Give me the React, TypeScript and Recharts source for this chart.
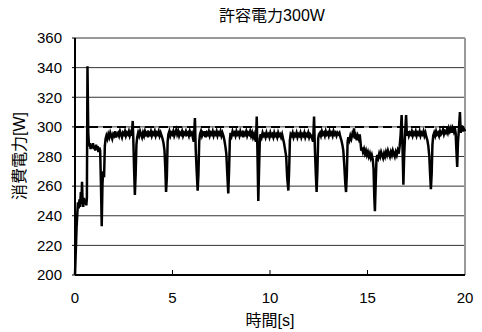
import React from 'react';
import { LineChart, Line, XAxis, YAxis, CartesianGrid, ReferenceLine } from 'recharts';

// Power draw log under a 300 W limit
const chartTitle = '許容電力300W';
const xTitle = '時間[s]';
const yTitle = '消費電力[W]';
const limitW = 300;

const xTicks = [0, 5, 10, 15, 20];
const yTicks = [200, 220, 240, 260, 280, 300, 320, 340, 360];

// Start-up and first run
const startupT = [0.0, 0.08, 0.15, 0.19, 0.23, 0.26, 0.3, 0.33, 0.36, 0.39, 0.42, 0.46, 0.5, 0.54, 0.58, 0.61, 0.64, 0.68, 0.72, 0.76, 0.8, 0.84, 0.88, 0.92, 0.96, 1.0, 1.04, 1.08, 1.12, 1.16, 1.2, 1.25, 1.29, 1.33, 1.37, 1.41, 1.45, 1.49, 1.53, 1.57, 1.61];
const startupW = [200, 232, 249, 245, 251, 246, 256, 248, 263, 250, 246, 252, 248, 250, 247, 252, 341, 296, 287, 289, 285, 288, 286, 289, 285, 287, 284, 288, 285, 287, 283, 286, 284, 262, 233, 262, 270, 266, 287, 292, 294];

const run1T = [1.66, 1.71, 1.76, 1.81, 1.86, 1.91, 1.96, 2.01, 2.06, 2.11, 2.16, 2.21, 2.26, 2.31, 2.36, 2.41, 2.46, 2.51, 2.56, 2.61, 2.66, 2.71, 2.76, 2.81, 2.86, 2.91, 2.96, 2.99, 3.03, 3.07, 3.11, 3.15, 3.19];
const run1W = [292, 295, 293, 296, 294, 292, 295, 294, 297, 293, 295, 296, 294, 297, 295, 293, 296, 295, 297, 294, 296, 295, 297, 294, 296, 294, 304, 292, 272, 254, 268, 288, 293];

const run2T = [3.24, 3.29, 3.34, 3.39, 3.44, 3.49, 3.54, 3.59, 3.64, 3.69, 3.74, 3.79, 3.84, 3.89, 3.94, 3.99, 4.04, 4.09, 4.14, 4.19, 4.24, 4.29, 4.34, 4.39, 4.44, 4.49, 4.54, 4.59, 4.63, 4.67, 4.71, 4.75, 4.79];
const run2W = [296, 294, 297, 295, 293, 296, 294, 297, 295, 296, 293, 296, 295, 297, 294, 296, 295, 297, 294, 296, 295, 297, 294, 296, 294, 292, 289, 284, 272, 256, 266, 290, 295];

const run3T = [4.84, 4.89, 4.94, 4.99, 5.04, 5.09, 5.14, 5.19, 5.24, 5.29, 5.34, 5.39, 5.44, 5.49, 5.54, 5.59, 5.64, 5.69, 5.74, 5.79, 5.84, 5.89, 5.94, 5.99, 6.04, 6.09, 6.15, 6.19, 6.24, 6.29, 6.33, 6.37, 6.41];
const run3W = [297, 294, 296, 295, 297, 294, 296, 298, 295, 297, 294, 296, 295, 297, 294, 296, 295, 297, 295, 296, 294, 297, 295, 296, 293, 290, 306, 285, 270, 257, 268, 290, 295];

const run4T = [6.46, 6.51, 6.56, 6.61, 6.66, 6.71, 6.76, 6.81, 6.86, 6.91, 6.96, 7.01, 7.06, 7.11, 7.16, 7.21, 7.26, 7.31, 7.36, 7.41, 7.46, 7.51, 7.56, 7.61, 7.66, 7.71, 7.76, 7.81, 7.86, 7.9, 7.94, 7.98];
const run4W = [297, 294, 296, 295, 297, 293, 296, 295, 297, 294, 296, 295, 297, 294, 296, 295, 297, 294, 296, 295, 297, 294, 296, 294, 291, 287, 282, 268, 255, 270, 291, 296];

const run5T = [8.03, 8.08, 8.13, 8.18, 8.23, 8.28, 8.33, 8.38, 8.43, 8.48, 8.53, 8.58, 8.63, 8.68, 8.73, 8.78, 8.83, 8.88, 8.93, 8.98, 9.03, 9.08, 9.13, 9.18, 9.23, 9.28, 9.32, 9.36, 9.4, 9.44, 9.48, 9.52];
const run5W = [294, 297, 295, 296, 294, 297, 295, 296, 294, 297, 295, 296, 293, 296, 295, 297, 294, 296, 295, 297, 294, 296, 293, 295, 292, 290, 307, 280, 250, 272, 292, 295];

const run6T = [9.57, 9.62, 9.67, 9.72, 9.77, 9.82, 9.87, 9.92, 9.97, 10.02, 10.07, 10.12, 10.17, 10.22, 10.27, 10.32, 10.37, 10.42, 10.47, 10.52, 10.57, 10.62, 10.67, 10.72, 10.77, 10.83, 10.88, 10.94, 10.98, 11.02, 11.06];
const run6W = [293, 296, 294, 295, 293, 296, 294, 295, 293, 296, 294, 295, 293, 296, 294, 295, 293, 296, 294, 295, 293, 295, 292, 289, 285, 280, 266, 257, 270, 291, 295];

const run7T = [11.11, 11.16, 11.21, 11.26, 11.31, 11.36, 11.41, 11.46, 11.51, 11.56, 11.61, 11.66, 11.71, 11.76, 11.81, 11.86, 11.91, 11.96, 12.01, 12.06, 12.11, 12.16, 12.21, 12.26, 12.3, 12.35, 12.39, 12.43, 12.47, 12.51];
const run7W = [294, 296, 293, 295, 294, 296, 293, 295, 294, 296, 293, 295, 294, 296, 293, 295, 294, 296, 293, 295, 294, 292, 290, 307, 286, 268, 256, 270, 292, 295];

const run8T = [12.56, 12.61, 12.66, 12.71, 12.76, 12.81, 12.86, 12.91, 12.96, 13.01, 13.06, 13.11, 13.16, 13.21, 13.26, 13.31, 13.36, 13.41, 13.46, 13.51, 13.56, 13.61, 13.66, 13.71, 13.76, 13.81, 13.86, 13.9, 13.94, 13.98, 14.02];
const run8W = [296, 294, 297, 295, 296, 294, 297, 295, 296, 294, 297, 295, 296, 294, 297, 295, 296, 294, 296, 295, 296, 293, 291, 288, 284, 274, 262, 256, 268, 290, 293];

// Reduced-power stretch
const lowT = [14.07, 14.12, 14.17, 14.22, 14.27, 14.31, 14.35, 14.4, 14.45, 14.5, 14.55, 14.6, 14.64, 14.68, 14.72, 14.77, 14.82, 14.87, 14.92, 14.97, 15.02, 15.07, 15.12, 15.17, 15.22, 15.27, 15.31, 15.35, 15.38, 15.42, 15.46, 15.5, 15.55, 15.6, 15.65, 15.7, 15.75, 15.8, 15.85, 15.9, 15.95, 16.0, 16.05, 16.1, 16.15, 16.2, 16.25, 16.3, 16.35, 16.4, 16.45, 16.5, 16.55, 16.6, 16.65, 16.7, 16.75, 16.8, 16.84, 16.88, 16.93, 16.98, 17.02];
const lowW = [291, 294, 292, 295, 293, 299, 292, 294, 291, 294, 292, 295, 290, 284, 286, 283, 285, 282, 284, 281, 283, 280, 282, 279, 281, 278, 272, 252, 243, 262, 278, 281, 279, 282, 280, 283, 281, 279, 282, 280, 283, 281, 284, 282, 280, 283, 281, 284, 282, 280, 283, 281, 284, 282, 287, 295, 308, 284, 261, 280, 296, 308, 294];

const run9T = [17.07, 17.12, 17.17, 17.22, 17.27, 17.32, 17.37, 17.42, 17.47, 17.52, 17.57, 17.62, 17.67, 17.72, 17.77, 17.82, 17.87, 17.92, 17.97, 18.02, 18.07, 18.12, 18.17, 18.21, 18.25, 18.29, 18.33, 18.37];
const run9W = [297, 294, 296, 295, 297, 294, 296, 295, 297, 294, 296, 295, 297, 294, 296, 295, 297, 294, 296, 293, 291, 287, 280, 268, 258, 268, 288, 294];

const run10T = [18.42, 18.47, 18.52, 18.57, 18.62, 18.67, 18.72, 18.77, 18.82, 18.87, 18.92, 18.97, 19.02, 19.07, 19.12, 19.17, 19.22, 19.27, 19.32, 19.37, 19.42, 19.47, 19.52, 19.56, 19.6, 19.64, 19.68, 19.74, 19.78, 19.83, 19.88, 19.93, 19.97, 20.0];
const run10W = [296, 294, 297, 295, 296, 294, 297, 295, 296, 298, 295, 297, 296, 298, 296, 299, 297, 299, 296, 299, 297, 300, 296, 284, 273, 290, 297, 310, 296, 301, 297, 299, 298, 297];

const timeS = [...startupT, ...run1T, ...run2T, ...run3T, ...run4T, ...run5T, ...run6T, ...run7T, ...run8T, ...lowT, ...run9T, ...run10T];
const powerW = [...startupW, ...run1W, ...run2W, ...run3W, ...run4W, ...run5W, ...run6W, ...run7W, ...run8W, ...lowW, ...run9W, ...run10W];

const rows = timeS.map((t, i) => ({ t, w: powerW[i] }));

const FONT = "'Liberation Sans', 'Noto Sans CJK JP', sans-serif";
const W = 474;
const H = 324;

// Bottom-axis tick: short inward mark plus the label below the axis
const XTick = (props: any) => {
  const { x, y, payload } = props;
  const v = payload.value;
  return (
    <g>
      {v > 0 && v < 20 && <line x1={x} x2={x} y1={y} y2={y - 5} stroke="#000" strokeWidth={1} />}
      <text x={x} y={y + 23} dy="0.355em" textAnchor="middle" fill="#000" fontSize={15} fontFamily={FONT}>
        {v}
      </text>
    </g>
  );
};

export default function App() {
  return (
    <div style={{ position: 'relative', width: W, height: H, fontFamily: FONT, color: '#000' }}>
      <LineChart width={W} height={H} data={rows} margin={{ top: 30, right: 17, bottom: 0, left: 0 }}>
        <CartesianGrid vertical={false} stroke="#333" strokeWidth={1} />
        <XAxis
          type="number"
          dataKey="t"
          domain={[0, 20]}
          ticks={xTicks}
          height={57}
          tickSize={0}
          tickMargin={0}
          tickLine={false}
          axisLine={{ stroke: '#000', strokeWidth: 2 }}
          tick={<XTick />}
          interval={0}
        />
        <YAxis
          type="number"
          domain={[200, 360]}
          ticks={yTicks}
          width={67}
          tickSize={3}
          tickMargin={10}
          interval={0}
          tickLine={{ stroke: '#000' }}
          axisLine={{ stroke: '#000', strokeWidth: 2 }}
          tick={{ fill: '#000', fontSize: 15, fontFamily: FONT }}
        />
        <ReferenceLine y={360} stroke="#999" strokeWidth={2} />
        <ReferenceLine x={20} stroke="#999" strokeWidth={2} />
        <ReferenceLine y={limitW} stroke="#000" strokeWidth={2} strokeDasharray="9 5" />
        <Line
          type="linear"
          dataKey="w"
          stroke="#000"
          strokeWidth={2.5}
          dot={false}
          isAnimationActive={false}
        />
      </LineChart>
      <div style={{ position: 'absolute', left: 164, width: 200, top: 0, textAlign: 'center', fontSize: 16, lineHeight: '16px' }}>
        {chartTitle}
      </div>
      <div style={{ position: 'absolute', left: 162, width: 200, top: 305, textAlign: 'center', fontSize: 16, lineHeight: '16px' }}>
        {xTitle}
      </div>
      <div
        style={{
          position: 'absolute',
          left: 12 - 60,
          top: 148 - 8,
          width: 120,
          textAlign: 'center',
          fontSize: 16,
          lineHeight: '16px',
          transform: 'rotate(-90deg)',
        }}
      >
        {yTitle}
      </div>
    </div>
  );
}
